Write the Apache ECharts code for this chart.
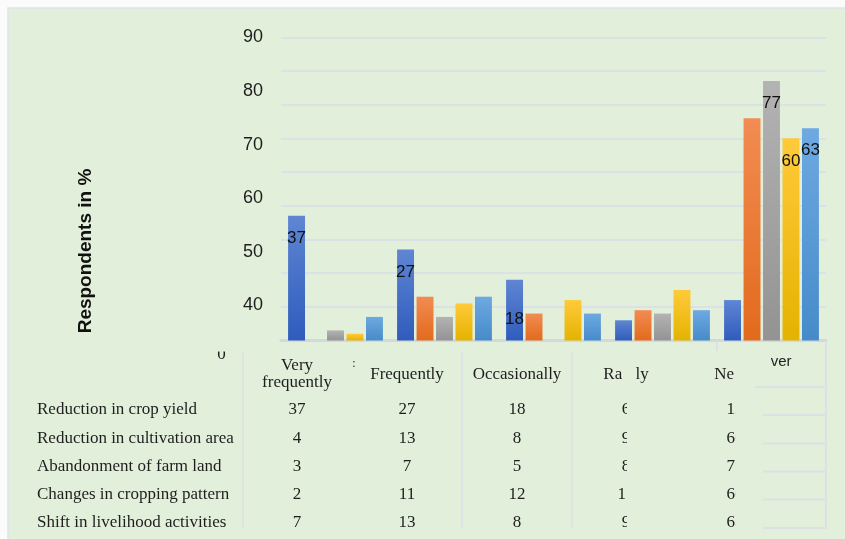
<!DOCTYPE html>
<html>
<head>
<meta charset="utf-8">
<script src="https://cdn.jsdelivr.net/npm/echarts@6/dist/echarts.min.js"></script>
<style>
  html, body { margin: 0; padding: 0; background: #fbfbfb; }
  #chart { width: 845px; height: 539px; }
</style>
</head>
<body>
<div id="chart"></div>
<script>
// Frequency of climate-related impacts reported by respondents (%)
const categories = ['Very frequently', 'Frequently', 'Occasionally', 'Rarely', 'Never'];
const seriesNames = [
  'Reduction in crop yield',
  'Reduction in cultivation area',
  'Abandonment of farm land',
  'Changes in cropping pattern',
  'Shift in livelihood activities'
];
const cropYield       = [37, 27, 18, 6, 12];
const cultivationArea = [4, 13, 8, 9, 66];
const farmLand        = [3, 7, 5, 8, 77];
const croppingPattern = [2, 11, 12, 15, 60];
const livelihood      = [7, 13, 8, 9, 63];
const yTickLabels = [0, 40, 50, 60, 70, 80, 90];

// [series, category] pairs that are listed in the table but not plotted
const unplotted = [[1, 0], [2, 2]];
// [series, category] pairs that carry a value label on the bar
const labelled = [[0, 0], [0, 1], [0, 2], [2, 4], [3, 4], [4, 4]];

const allSeries = [cropYield, cultivationArea, farmLand, croppingPattern, livelihood];

const BG = '#e2efda';
const LINE = '#dce1e6';
const SANS = '"Liberation Sans", Arial, sans-serif';
const SERIF = '"Liberation Serif", "Times New Roman", serif';

function grad(top, bottom) {
  return new echarts.graphic.LinearGradient(0, 0, 0, 1, [
    { offset: 0, color: top }, { offset: 1, color: bottom }
  ]);
}
const fills = [
  grad('#5f86d3', '#2f5cbc'),
  grad('#f28c52', '#e26a1c'),
  grad('#b3b3b3', '#939393'),
  grad('#ffca3a', '#e4b300'),
  grad('#6ea9e2', '#468bc9')
];

const isIn = (list, s, c) => list.some(p => p[0] === s && p[1] === c);

const series = allSeries.map((vals, s) => ({
  name: seriesNames[s],
  type: 'bar',
  barGap: '15%',
  barCategoryGap: '13%',
  itemStyle: { color: fills[s] },
  data: vals.map((v, c) => {
    if (isIn(unplotted, s, c)) return '-';
    const item = { value: v };
    if (isIn(labelled, s, c)) {
      item.label = {
        show: true,
        position: 'insideTop',
        distance: (s === 0 && c === 2) ? 31 : 14,
        color: '#111',
        fontFamily: SANS,
        fontSize: 17
      };
    }
    return item;
  })
}));

// ---- data table drawn under the plot ----
const colCenters = [297, 407, 517, 626, 735];
const rowY = [410, 438.5, 466.5, 495, 522.5];
const graphics = [];

// outer panel
graphics.push({
  type: 'rect', z: -10, silent: true,
  shape: { x: 8, y: 8, width: 845, height: 540 },
  style: { fill: BG, stroke: '#dfe4ea', lineWidth: 1.5 }
});
// table panel over the axis labels
graphics.push({ type: 'rect', z: 100, silent: true,
  shape: { x: 14, y: 343, width: 720, height: 196 }, style: { fill: BG } });
graphics.push({ type: 'rect', z: 100, silent: true,
  shape: { x: 733.5, y: 351, width: 37.5, height: 35 }, style: { fill: BG } });
graphics.push({ type: 'rect', z: 100, silent: true,
  shape: { x: 733, y: 386, width: 30, height: 153 }, style: { fill: BG } });

function text(str, x, y, font, align, z) {
  return {
    type: 'text', z: z || 102, silent: true,
    style: {
      text: str, x: x, y: y, font: font, fill: '#1e1e1e',
      align: align || 'center', verticalAlign: 'middle',
      textAlign: align || 'center', textVerticalAlign: 'middle'
    }
  };
}
function line(x1, y1, x2, y2, w) {
  return { type: 'line', z: 101, silent: true,
    shape: { x1, y1, x2, y2 }, style: { stroke: LINE, lineWidth: w || 2 } };
}

// column separators
[243, 462, 572].forEach(x => graphics.push(line(x, 352, x, 528, 1.5)));

// header row
const tFont = '17px ' + SERIF;
graphics.push(text(categories[0].replace(' ', '\n'), colCenters[0], 374, tFont));
for (let c = 1; c < categories.length; c++) {
  graphics.push(text(categories[c], colCenters[c], 375, tFont));
}
graphics.push(text(String(yTickLabels[0]), 221.5, 355, tFont));
graphics.push({ type: 'rect', z: 103, silent: true,
  shape: { x: 212, y: 343, width: 20, height: 8.5 }, style: { fill: BG } });
graphics.push(text(':', 354, 364, '12px ' + SERIF));

// body rows
seriesNames.forEach((name, s) => {
  graphics.push(text(name, 37, rowY[s], tFont, 'left'));
  allSeries[s].forEach((v, c) => {
    graphics.push(text(String(v), colCenters[c], rowY[s], tFont));
  });
});

// patches over the Rarely / Never columns
graphics.push({ type: 'rect', z: 103, silent: true,
  shape: { x: 622, y: 364, width: 13.5, height: 22 }, style: { fill: BG } });
graphics.push({ type: 'rect', z: 103, silent: true,
  shape: { x: 627, y: 396, width: 70, height: 140 }, style: { fill: BG } });
graphics.push({ type: 'rect', z: 103, silent: true,
  shape: { x: 734, y: 362, width: 36.5, height: 24 }, style: { fill: BG } });
graphics.push({ type: 'rect', z: 103, silent: true,
  shape: { x: 735.3, y: 396, width: 27, height: 140 }, style: { fill: BG } });

// right-hand table borders
graphics.push(line(717, 341, 717, 351));
graphics.push(line(826, 341, 826, 529));
graphics.push(line(755, 387, 826, 387));
[415, 443.5, 471.5, 499.5, 528].forEach(y => graphics.push(line(763, y, 826, y)));

// axis title
graphics.push({
  type: 'text', z: 102, silent: true,
  x: 86, y: 251, rotation: Math.PI / 2,
  style: {
    text: 'Respondents in %', x: 0, y: 0,
    font: 'bold 19px ' + SANS, fill: '#111',
    align: 'center', verticalAlign: 'middle',
    textAlign: 'center', textVerticalAlign: 'middle'
  }
});

const chart = echarts.init(document.getElementById('chart'), null, { renderer: 'canvas' });
chart.setOption({
  backgroundColor: 'transparent',
  animation: false,
  grid: { left: 281, right: 19, top: 37.3, bottom: 198.5 },
  xAxis: {
    type: 'category',
    data: categories,
    axisLine: { lineStyle: { color: '#d3d8dd', width: 3 } },
    axisTick: { show: false },
    axisLabel: { fontFamily: SANS, fontSize: 15, color: '#1e1e1e', margin: 14, interval: 0 }
  },
  yAxis: [
    {
      type: 'value', min: 0, max: 90, interval: 10,
      axisLabel: { show: false },
      axisLine: { show: false }, axisTick: { show: false },
      splitLine: { lineStyle: { color: LINE, width: 2 } }
    },
    {
      type: 'value', min: 33.47, max: 90, position: 'left',
      axisLine: { show: false }, axisTick: { show: false },
      splitLine: { show: false },
      axisLabel: {
        customValues: yTickLabels.filter(v => v >= 40),
        margin: 18, fontFamily: SANS, fontSize: 18, color: '#1e1e1e'
      }
    }
  ],
  series: series,
  graphic: graphics
});
</script>
</body>
</html>
